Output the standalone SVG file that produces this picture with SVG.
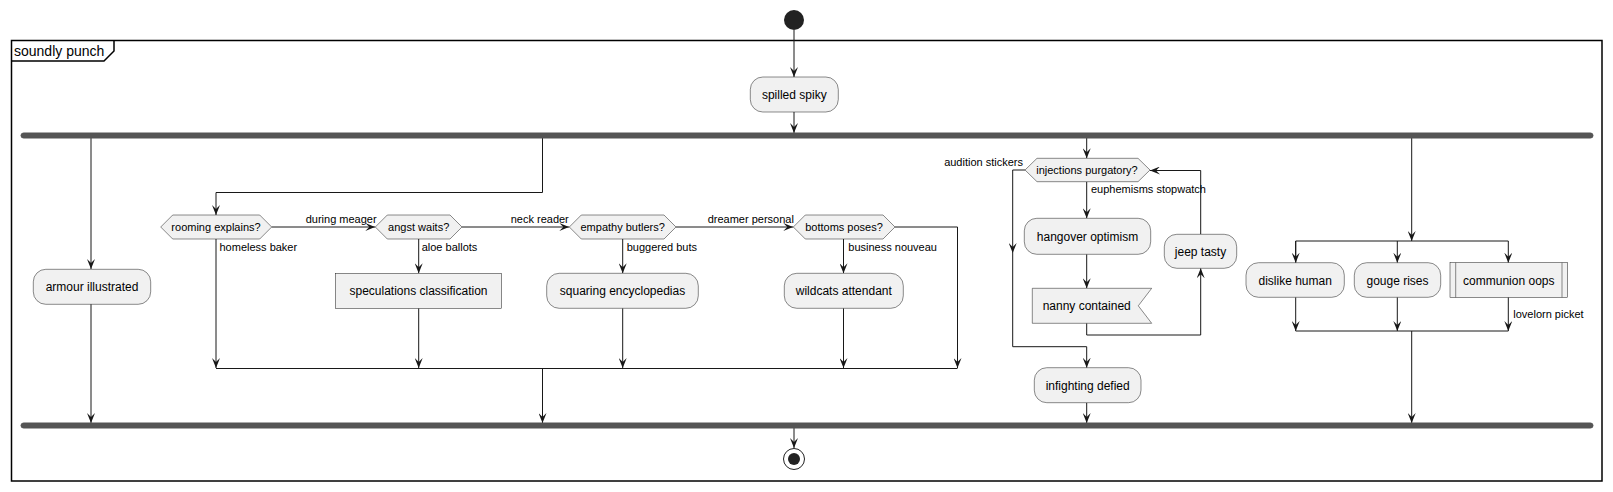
<svg xmlns="http://www.w3.org/2000/svg" width="1613" height="492" viewBox="0 0 1613 492">
<style>
text{font-family:"Liberation Sans",Arial,sans-serif;fill:#000}
.n{font-size:12px;text-anchor:middle}
.d{font-size:11px;text-anchor:middle}
.l{font-size:11px}
.box{fill:#F1F1F1;stroke:#181818;stroke-width:0.5}
.c{fill:none;stroke:#181818;stroke-width:1}
.bar{fill:#555555;stroke:#555555}
</style>
<defs>
<marker id="ah" viewBox="0 0 10 8" refX="10" refY="4" markerWidth="10" markerHeight="8" markerUnits="userSpaceOnUse" orient="auto">
<path d="M0,0 L10,4 L0,8 L4,4 Z" fill="#181818"/>
</marker>
</defs>
<rect x="0" y="0" width="1613" height="492" fill="#FFFFFF"/>
<g id="frame">
<rect x="11.5" y="40.5" width="1590.5" height="440.5" fill="none" stroke="#000" stroke-width="1.5"/>
<path d="M11.5,61 L104,61 L114,51 L114,40.5" fill="none" stroke="#000" stroke-width="1.5"/>
<text x="14" y="56" style="font-size:14px">soundly punch</text>
</g>
<g id="connectors">
<path class="c" d="M794,30 L794,77" marker-end="url(#ah)"/>
<path class="c" d="M794,112 L794,133" marker-end="url(#ah)"/>
<path class="c" d="M91,138 L91,269" marker-end="url(#ah)"/>
<path class="c" d="M91,304 L91,423" marker-end="url(#ah)"/>
<path class="c" d="M542.5,138 L542.5,192.5 L216,192.5 L216,215" marker-end="url(#ah)"/>
<path class="c" d="M271.7,227 L375.3,227" marker-end="url(#ah)"/>
<path class="c" d="M462,227 L569.3,227" marker-end="url(#ah)"/>
<path class="c" d="M676,227 L793.3,227" marker-end="url(#ah)"/>
<path class="c" d="M216,239 L216,368" marker-end="url(#ah)"/>
<path class="c" d="M418.7,239 L418.7,273.3" marker-end="url(#ah)"/>
<path class="c" d="M418.7,308.3 L418.7,368" marker-end="url(#ah)"/>
<path class="c" d="M622.7,239 L622.7,273.3" marker-end="url(#ah)"/>
<path class="c" d="M622.7,308.3 L622.7,368" marker-end="url(#ah)"/>
<path class="c" d="M843.5,239 L843.5,273.3" marker-end="url(#ah)"/>
<path class="c" d="M843.5,308.3 L843.5,368" marker-end="url(#ah)"/>
<path class="c" d="M895,227 L957.5,227 L957.5,368" marker-end="url(#ah)"/>
<path class="c" d="M216,368.5 L957.5,368.5"/>
<path class="c" d="M542.5,368.5 L542.5,423" marker-end="url(#ah)"/>
<path class="c" d="M1086.7,138 L1086.7,158.3" marker-end="url(#ah)"/>
<path class="c" d="M1025,170 L1012.7,170 L1012.7,253" marker-end="url(#ah)"/>
<path class="c" d="M1012.7,253 L1012.7,346.7 L1086.7,346.7 L1086.7,367.7" marker-end="url(#ah)"/>
<path class="c" d="M1086.7,181.7 L1086.7,218.3" marker-end="url(#ah)"/>
<path class="c" d="M1086.7,254.3 L1086.7,288.3" marker-end="url(#ah)"/>
<path class="c" d="M1086.7,323.3 L1086.7,335 L1200.7,335 L1200.7,268.3" marker-end="url(#ah)"/>
<path class="c" d="M1200.7,234.3 L1200.7,170.5 L1150,170.5" marker-end="url(#ah)"/>
<path class="c" d="M1086.7,402.7 L1086.7,423" marker-end="url(#ah)"/>
<path class="c" d="M1411.7,138 L1411.7,241" marker-end="url(#ah)"/>
<path class="c" d="M1295.7,262.7 L1295.7,241 L1508.3,241 L1508.3,262.7" marker-end="url(#ah)"/>
<path class="c" d="M1295.7,241 L1295.7,262.7" marker-end="url(#ah)"/>
<path class="c" d="M1397.3,241 L1397.3,262.7" marker-end="url(#ah)"/>
<path class="c" d="M1295.7,297.3 L1295.7,331" marker-end="url(#ah)"/>
<path class="c" d="M1397.3,297.3 L1397.3,331" marker-end="url(#ah)"/>
<path class="c" d="M1508.3,297.3 L1508.3,331" marker-end="url(#ah)"/>
<path class="c" d="M1295.7,331 L1508.3,331"/>
<path class="c" d="M1411.7,331 L1411.7,423" marker-end="url(#ah)"/>
<path class="c" d="M794,428 L794,448" marker-end="url(#ah)"/>
<text class="l" x="305.7" y="223">during meager</text>
<text class="l" x="510.7" y="223">neck reader</text>
<text class="l" x="707.7" y="223">dreamer personal</text>
<text class="l" x="219.5" y="251">homeless baker</text>
<text class="l" x="421.7" y="251">aloe ballots</text>
<text class="l" x="626.7" y="251">buggered buts</text>
<text class="l" x="848.3" y="251">business nouveau</text>
<text class="l" x="1023" y="166" text-anchor="end">audition stickers</text>
<text class="l" x="1091" y="193">euphemisms stopwatch</text>
<text class="l" x="1513.3" y="318">lovelorn picket</text>
</g>
<g id="start"><circle cx="794" cy="20" r="10" fill="#222222"/></g>
<g id="spilled-spiky">
<rect class="box" x="750.3" y="77" width="88" height="35" rx="12.5"/>
<text class="n" x="794.3" y="99">spilled spiky</text>
</g>
<g id="fork-bar"><rect class="bar" x="21" y="133" width="1572" height="5" rx="2.5"/></g>
<g id="armour-illustrated">
<rect class="box" x="33.3" y="269.3" width="117.4" height="35" rx="12.5"/>
<text class="n" x="92" y="291.3">armour illustrated</text>
</g>
<g id="rooming-explains">
<polygon class="box" points="160.7,227 172.7,215 259.7,215 271.7,227 259.7,239 172.7,239"/>
<text class="d" x="216" y="231">rooming explains?</text>
</g>
<g id="angst-waits">
<polygon class="box" points="375.3,227 387.3,215 450,215 462,227 450,239 387.3,239"/>
<text class="d" x="418.7" y="231">angst waits?</text>
</g>
<g id="empathy-butlers">
<polygon class="box" points="569.3,227 581.3,215 664,215 676,227 664,239 581.3,239"/>
<text class="d" x="622.7" y="231">empathy butlers?</text>
</g>
<g id="bottoms-poses">
<polygon class="box" points="793.3,227 805.3,215 883,215 895,227 883,239 805.3,239"/>
<text class="d" x="844" y="231">bottoms poses?</text>
</g>
<g id="speculations-classification">
<rect class="box" x="335.3" y="273.3" width="166.4" height="35"/>
<text class="n" x="418.5" y="295.3">speculations classification</text>
</g>
<g id="squaring-encyclopedias">
<rect class="box" x="546.7" y="273.3" width="151.6" height="35" rx="12.5"/>
<text class="n" x="622.5" y="295.3">squaring encyclopedias</text>
</g>
<g id="wildcats-attendant">
<rect class="box" x="784.3" y="273.3" width="119" height="35" rx="12.5"/>
<text class="n" x="843.8" y="295.3">wildcats attendant</text>
</g>
<g id="injections-purgatory">
<polygon class="box" points="1025,170 1037,158.3 1138,158.3 1150,170 1138,181.7 1037,181.7"/>
<text class="d" x="1087" y="174">injections purgatory?</text>
</g>
<g id="hangover-optimism">
<rect class="box" x="1024.3" y="218.3" width="126.4" height="36" rx="12.5"/>
<text class="n" x="1087.5" y="240.8">hangover optimism</text>
</g>
<g id="nanny-contained">
<polygon class="box" points="1032.3,288.3 1151.7,288.3 1138.3,305.8 1151.7,323.3 1032.3,323.3"/>
<text class="n" x="1086.7" y="310.3">nanny contained</text>
</g>
<g id="jeep-tasty">
<rect class="box" x="1164.3" y="234.3" width="72.4" height="34" rx="12.5"/>
<text class="n" x="1200.5" y="256">jeep tasty</text>
</g>
<g id="infighting-defied">
<rect class="box" x="1034.3" y="367.7" width="106.7" height="35" rx="12.5"/>
<text class="n" x="1087.7" y="389.7">infighting defied</text>
</g>
<g id="dislike-human">
<rect class="box" x="1246" y="262.7" width="98.3" height="34.6" rx="12.5"/>
<text class="n" x="1295.2" y="284.5">dislike human</text>
</g>
<g id="gouge-rises">
<rect class="box" x="1354.3" y="262.7" width="86.4" height="34.6" rx="12.5"/>
<text class="n" x="1397.5" y="284.5">gouge rises</text>
</g>
<g id="communion-oops">
<rect class="box" x="1450" y="262.7" width="117.7" height="34.6"/>
<path d="M1455.7,262.7 L1455.7,297.3 M1562,262.7 L1562,297.3" fill="none" stroke="#181818" stroke-width="0.5"/>
<text class="n" x="1508.8" y="284.5">communion oops</text>
</g>
<g id="join-bar"><rect class="bar" x="21" y="423" width="1572" height="5" rx="2.5"/></g>
<g id="end">
<circle cx="794" cy="459" r="10.5" fill="#FFFFFF" stroke="#222222" stroke-width="1"/>
<circle cx="794" cy="459" r="6" fill="#222222"/>
</g>
</svg>
